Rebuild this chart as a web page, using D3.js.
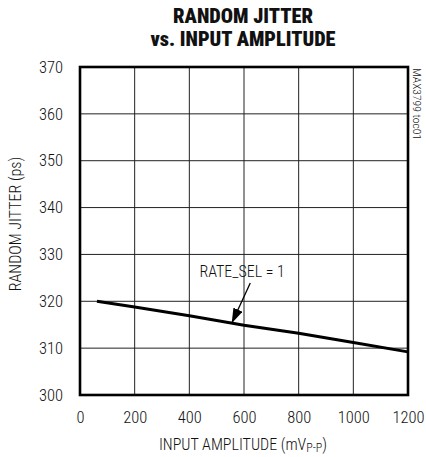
<!DOCTYPE html>
<html><head><meta charset="utf-8">
<script src="https://cdn.jsdelivr.net/npm/d3@7"></script>
<style>
body{margin:0;background:#fff;}
svg{display:block;}
text{font-family:"Liberation Sans Narrow","Roboto Condensed",Roboto,sans-serif;font-weight:300;fill:#111;}
</style></head><body>
<svg id="c" width="426" height="457"></svg>
<script>
const xTicks = [0, 200, 400, 600, 800, 1000, 1200];
const yTicks = [300, 310, 320, 330, 340, 350, 360, 370];
const amplitude = [62, 200, 400, 600, 800, 1000, 1200];
const jitter = [320.0, 318.8, 316.9, 314.9, 313.2, 311.2, 309.2];
const titleLines = ["RANDOM JITTER", "vs. INPUT AMPLITUDE"];
const seriesLabel = "RATE_SEL = 1";

const svg = d3.select("#c");
const L = 80, R = 408, T = 67, B = 395;
const x = d3.scaleLinear().domain([0, 1200]).range([L, R]);
const y = d3.scaleLinear().domain([300, 370]).range([B, T]);
const FF = '"Liberation Sans Narrow","Roboto Condensed",Roboto,sans-serif';

// grid
const g = svg.append("g");
g.selectAll("line.v").data(xTicks.slice(1, -1)).enter().append("line")
  .attr("x1", d => x(d)).attr("x2", d => x(d)).attr("y1", T).attr("y2", B)
  .attr("stroke", "#222").attr("stroke-width", 1);
g.selectAll("line.h").data(yTicks.slice(1, -1)).enter().append("line")
  .attr("y1", d => y(d)).attr("y2", d => y(d)).attr("x1", L).attr("x2", R)
  .attr("stroke", "#222").attr("stroke-width", 1);

// axes tick labels
const xa = svg.append("g").attr("transform", `translate(0,${B})`)
  .call(d3.axisBottom(x).tickValues(xTicks).tickSize(0).tickPadding(16).tickFormat(d3.format("d")));
xa.select(".domain").remove();
xa.selectAll("text").attr("font-size", 16.5).attr("fill", "#111").style("font-family", FF).style("font-weight", 300);
const ya = svg.append("g").attr("transform", `translate(${L},0)`)
  .call(d3.axisLeft(y).tickValues(yTicks).tickSize(0).tickPadding(17).tickFormat(d3.format("d")));
ya.select(".domain").remove();
ya.selectAll("text").attr("font-size", 16.5).attr("fill", "#111").style("font-family", FF).style("font-weight", 300);

// frame
svg.append("rect").attr("x", L).attr("y", T).attr("width", R - L).attr("height", B - T)
  .attr("fill", "none").attr("stroke", "#000").attr("stroke-width", 2.6);

// series
svg.append("path").datum(amplitude.map((a, i) => [a, jitter[i]]))
  .attr("d", d3.line().x(d => x(d[0])).y(d => y(d[1])))
  .attr("fill", "none").attr("stroke", "#000").attr("stroke-width", 3);

// annotation label + arrow
svg.append("text").attr("x", x(593)).attr("y", 277).attr("text-anchor", "middle")
  .attr("font-size", 16).text(seriesLabel);
svg.append("defs").append("marker").attr("id", "ah").attr("viewBox", "0 0 15 10")
  .attr("refX", 15).attr("refY", 5).attr("markerWidth", 15).attr("markerHeight", 10)
  .attr("markerUnits", "userSpaceOnUse").attr("orient", "auto")
  .append("path").attr("d", "M0,0L15,5L0,10z").attr("fill", "#000");
svg.append("line").attr("x1", x(623)).attr("y1", 283).attr("x2", x(555)).attr("y2", y(315.3))
  .attr("stroke", "#000").attr("stroke-width", 1.3).attr("marker-end", "url(#ah)");

// title
const titleW = [140, 185];
svg.selectAll("text.title").data(titleLines).enter().append("text")
  .attr("class", "title").attr("x", 243).attr("y", (d, i) => 23 + i * 23)
  .attr("text-anchor", "middle").attr("font-size", 20).style("font-weight", 900)
  .attr("textLength", (d, i) => titleW[i]).attr("lengthAdjust", "spacingAndGlyphs")
  .text(d => d);

// axis titles
svg.append("text").attr("transform", `translate(21,224) rotate(-90)`).attr("text-anchor", "middle")
  .attr("font-size", 16).text("RANDOM JITTER (ps)");
const xl = svg.append("text").attr("x", 243).attr("y", 450).attr("text-anchor", "middle").attr("font-size", 16);
xl.append("tspan").text("INPUT AMPLITUDE (mV");
xl.append("tspan").attr("font-size", 12).attr("dy", 2).text("P-P");
xl.append("tspan").attr("dy", -2).text(")");

// side code
svg.append("text").attr("transform", `translate(413,68) rotate(90)`).attr("text-anchor", "start")
  .attr("font-size", 10).attr("textLength", 72).attr("lengthAdjust", "spacingAndGlyphs")
  .text("MAX3799 toc01");
</script>
</body></html>
